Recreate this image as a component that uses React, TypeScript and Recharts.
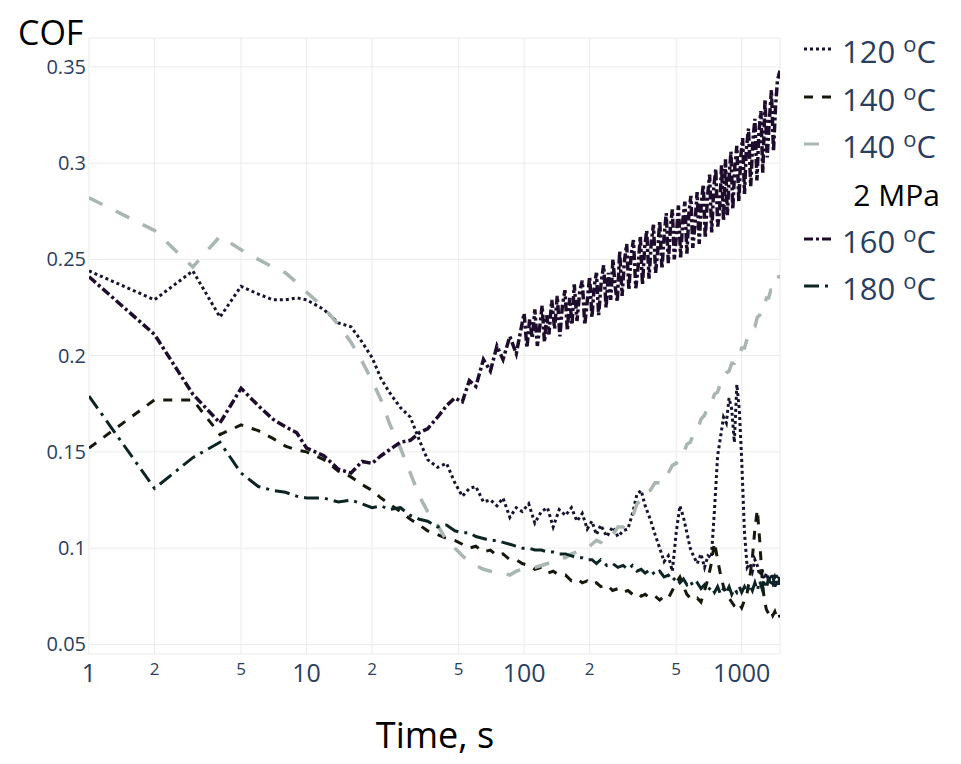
import React from "react";
import { LineChart, Line, XAxis, YAxis, CartesianGrid } from "recharts";

// time, s (log axis)
const TIME = [
  1, 2, 3, 4, 5, 6, 7, 8, 9, 10,
  12, 14, 16, 18, 20, 22, 24, 27, 30, 33, 36, 40, 44, 48,
  52, 56, 60, 65, 70, 75, 80, 86, 92, 98,
  105, 112, 120, 128, 136, 145, 155, 165, 175, 185, 195,
  205, 215, 225, 240, 255, 270, 285, 300, 315, 330, 345, 360, 380,
  400, 420, 440, 460, 480, 500, 520, 540, 560, 580, 600,
  625, 650, 675, 700, 725, 750, 775, 800, 825, 850, 875, 900, 925, 950, 975, 1000,
  1030, 1060, 1090, 1120, 1150, 1180, 1210, 1240, 1270, 1300, 1330, 1360, 1390, 1420, 1450, 1480, 1500,
];

const COF_120 = [
  0.244, 0.229, 0.244, 0.22, 0.236, 0.232, 0.229, 0.229, 0.23, 0.229,
  0.224, 0.217, 0.215, 0.207, 0.199, 0.188, 0.181, 0.173, 0.168, 0.156, 0.146, 0.142, 0.144, 0.134,
  0.127, 0.131, 0.132, 0.124, 0.125, 0.122, 0.126, 0.116, 0.121, 0.119,
  0.123, 0.113, 0.119, 0.121, 0.111, 0.12, 0.117, 0.121, 0.114, 0.118, 0.11,
  0.114, 0.107, 0.112, 0.106, 0.111, 0.106, 0.109, 0.11, 0.118, 0.128, 0.13, 0.122, 0.115,
  0.107, 0.1, 0.093, 0.096, 0.088, 0.108, 0.122, 0.116, 0.108, 0.1, 0.096,
  0.092, 0.097, 0.09, 0.096, 0.095, 0.12, 0.148, 0.158, 0.168, 0.165, 0.178, 0.172, 0.155, 0.185, 0.172, 0.146,
  0.108, 0.09, 0.092, 0.088, 0.094, 0.091, 0.086, 0.089, 0.084, 0.087, 0.083, 0.086, 0.082, 0.085, 0.082, 0.084, 0.083,
];

const COF_140 = [
  0.152, 0.177, 0.177, 0.159, 0.164, 0.161, 0.157, 0.153, 0.151, 0.15,
  0.146, 0.14, 0.137, 0.133, 0.13, 0.126, 0.123, 0.119, 0.115, 0.112, 0.109, 0.107, 0.105, 0.104,
  0.102, 0.1, 0.101, 0.098, 0.099, 0.096, 0.097, 0.094, 0.094, 0.092,
  0.091, 0.089, 0.09, 0.087, 0.088, 0.086, 0.086, 0.083, 0.084, 0.082, 0.083,
  0.081, 0.082, 0.08, 0.081, 0.078, 0.079, 0.077, 0.078, 0.076, 0.077, 0.075, 0.076, 0.074,
  0.075, 0.073, 0.075, 0.074, 0.078, 0.082, 0.085, 0.08, 0.076, 0.074, 0.073,
  0.074, 0.072, 0.078, 0.084, 0.092, 0.103, 0.094, 0.086, 0.08, 0.076, 0.074, 0.072, 0.07, 0.069, 0.071, 0.069,
  0.073, 0.077, 0.085, 0.095, 0.11, 0.12, 0.104, 0.085, 0.073, 0.068, 0.066, 0.068, 0.065, 0.067, 0.064, 0.066, 0.064,
];

const COF_140_2MPA = [
  0.282, 0.265, 0.246, 0.262, 0.255, 0.25, 0.246, 0.243, 0.238, 0.233,
  0.225, 0.216, 0.207, 0.197, 0.187, 0.177, 0.165, 0.152, 0.139, 0.127, 0.119, 0.112, 0.104, 0.1,
  0.096, 0.093, 0.091, 0.089, 0.088, 0.087, 0.087, 0.086, 0.088, 0.089,
  0.09, 0.09, 0.091, 0.092, 0.093, 0.095, 0.095, 0.097, 0.098, 0.099, 0.1,
  0.102, 0.104, 0.103, 0.107, 0.107, 0.111, 0.111, 0.115, 0.116, 0.123, 0.125, 0.129, 0.13,
  0.134, 0.134, 0.139, 0.139, 0.143, 0.144, 0.148, 0.149, 0.154, 0.155, 0.159,
  0.161, 0.167, 0.169, 0.174, 0.175, 0.18, 0.181, 0.186, 0.187, 0.191, 0.192, 0.196, 0.196, 0.2, 0.2, 0.204,
  0.204, 0.209, 0.21, 0.214, 0.215, 0.22, 0.221, 0.226, 0.226, 0.23, 0.23, 0.234, 0.234, 0.238, 0.238, 0.241, 0.241,
];

const COF_180 = [
  0.179, 0.131, 0.147, 0.155, 0.139, 0.132, 0.13, 0.129, 0.127, 0.126,
  0.126, 0.124, 0.125, 0.123, 0.121, 0.122, 0.12, 0.121, 0.117, 0.115, 0.114, 0.111, 0.112, 0.109,
  0.108, 0.108, 0.106, 0.105, 0.104, 0.104, 0.103, 0.102, 0.101, 0.1,
  0.1, 0.099, 0.099, 0.098, 0.098, 0.097, 0.097, 0.096, 0.095, 0.095, 0.094,
  0.094, 0.092, 0.094, 0.091, 0.092, 0.09, 0.091, 0.089, 0.091, 0.088, 0.089, 0.087, 0.089,
  0.086, 0.088, 0.085, 0.086, 0.083, 0.085, 0.082, 0.084, 0.081, 0.083, 0.08,
  0.082, 0.079, 0.081, 0.078, 0.08, 0.077, 0.08, 0.076, 0.079, 0.077, 0.08, 0.076, 0.079, 0.077, 0.08, 0.077,
  0.08, 0.077, 0.081, 0.078, 0.082, 0.078, 0.083, 0.079, 0.084, 0.079, 0.085, 0.08, 0.086, 0.08, 0.086, 0.081, 0.085,
];

// the 160 °C run is sampled more finely (wide oscillating band)
const TIME_160 = [
  1, 2, 3, 4, 5, 6, 7, 8, 9, 10,
  12, 14, 16, 18, 20, 22, 24, 27, 30, 33, 36, 40, 44, 48,
  52, 56, 60, 65, 70, 75, 80, 86, 92, 98,
  100, 103, 106, 109, 112, 115, 118, 121, 124, 127,
  130, 134, 138, 142, 146, 150, 154, 158, 162, 166,
  170, 175, 180, 185, 190, 195, 200, 205, 210, 215,
  220, 226, 232, 238, 244, 250, 256, 262, 268, 275,
  282, 289, 296, 303, 310, 318, 326, 334, 342, 350,
  358, 366, 375, 384, 393, 402, 411, 420, 430, 440,
  450, 460, 470, 480, 490, 500, 512, 524, 536, 548,
  560, 572, 584, 596, 610, 624, 638, 652, 666, 680,
  696, 712, 728, 744, 760, 776, 792, 808, 825, 842,
  859, 876, 893, 910, 930, 950, 970, 990, 1010, 1030,
  1050, 1075, 1100, 1125, 1150, 1175, 1200, 1225, 1250, 1280,
  1310, 1340, 1370, 1400, 1430, 1460, 1500,
];

const COF_160 = [
  0.241, 0.211, 0.18, 0.165, 0.183, 0.174, 0.167, 0.163, 0.16, 0.152,
  0.148, 0.141, 0.139, 0.145, 0.144, 0.148, 0.151, 0.155, 0.156, 0.16, 0.162, 0.168, 0.174, 0.178,
  0.176, 0.187, 0.184, 0.198, 0.192, 0.205, 0.198, 0.21, 0.201, 0.217,
  0.222, 0.204, 0.219, 0.209, 0.224, 0.205, 0.215, 0.226, 0.207, 0.221,
  0.211, 0.229, 0.214, 0.231, 0.21, 0.226, 0.234, 0.213, 0.23, 0.216,
  0.237, 0.218, 0.233, 0.239, 0.216, 0.228, 0.241, 0.22, 0.236, 0.243,
  0.221, 0.238, 0.247, 0.225, 0.243, 0.229, 0.25, 0.236, 0.228, 0.254,
  0.231, 0.249, 0.258, 0.234, 0.252, 0.26, 0.235, 0.246, 0.262, 0.237,
  0.256, 0.265, 0.24, 0.259, 0.268, 0.243, 0.254, 0.27, 0.245, 0.262,
  0.274, 0.248, 0.266, 0.276, 0.25, 0.261, 0.278, 0.251, 0.27, 0.28,
  0.253, 0.274, 0.283, 0.256, 0.268, 0.285, 0.258, 0.279, 0.289, 0.261,
  0.282, 0.294, 0.264, 0.287, 0.297, 0.267, 0.276, 0.299, 0.27, 0.302,
  0.273, 0.293, 0.306, 0.276, 0.298, 0.309, 0.28, 0.303, 0.313, 0.284,
  0.307, 0.318, 0.288, 0.311, 0.323, 0.291, 0.316, 0.327, 0.295, 0.333,
  0.303, 0.322, 0.338, 0.306, 0.329, 0.343, 0.348,
];

const X_TICKS = [1, 2, 5, 10, 20, 50, 100, 200, 500, 1000];
const Y_TICKS = [0.05, 0.1, 0.15, 0.2, 0.25, 0.3, 0.35];

const series = [
  { key: "c120", label: "120 ", color: "#15152f", dash: "3 3", width: 3 },
  { key: "c140", label: "140 ", color: "#15180c", dash: "9 9", width: 3 },
  { key: "c140g", label: "140 ", color: "#a9b6b2", dash: "15 15", width: 3.5, extra: "2 MPa" },
  { key: "c160", label: "160 ", color: "#1d0c2c", dash: "9 3 3 3", width: 3.5 },
  { key: "c180", label: "180 ", color: "#0d2424", dash: "15 6 3 6", width: 3 },
];

const data = TIME.map((t, i) => ({
  t,
  c120: COF_120[i],
  c140: COF_140[i],
  c140g: COF_140_2MPA[i],
  c180: COF_180[i],
}));

const data160 = TIME_160.map((t, i) => ({ t, c160: COF_160[i] }));

const FONT = "'Open Sans', sans-serif";
const TICK_COLOR = "#2a3f5f";

const XTick = (props: any) => {
  const { x, y, payload } = props;
  const major = [1, 10, 100, 1000].includes(payload.value);
  return (
    <text
      x={x}
      y={y}
      dy={major ? 28 : 21}
      textAnchor="middle"
      fontFamily={FONT}
      fontSize={major ? 25 : 17}
      fill={TICK_COLOR}
    >
      {major ? payload.value : String(payload.value)[0]}
    </text>
  );
};

// legend rows: baseline of text, in container px
const legendBaselines = [55, 103, 150, 245, 292];

export default function App() {
  return (
    <div style={{ position: "relative", width: 945, height: 750 }}>
      <LineChart
        width={945}
        height={750}
        data={data}
        margin={{ top: 30, right: 173, bottom: 0, left: 0 }}
      >
        <CartesianGrid stroke="#ebebeb" strokeWidth={1} />
        <XAxis
          dataKey="t"
          type="number"
          scale="log"
          domain={[1, 1500]}
          allowDataOverflow
          ticks={X_TICKS}
          interval={0}
          height={104}
          tickLine={false}
          axisLine={false}
          tickSize={0}
          tickMargin={0}
          tick={<XTick />}
        />
        <YAxis
          type="number"
          domain={[0.045, 0.365]}
          ticks={Y_TICKS}
          interval={0}
          width={81}
          tickLine={false}
          axisLine={false}
          tickSize={0}
          tickMargin={3}
          tick={{ fontSize: 20, fill: TICK_COLOR, fontFamily: FONT }}
        />
        {series.map((s) => (
          <Line
            key={s.key}
            data={s.key === "c160" ? data160 : undefined}
            dataKey={s.key}
            type="linear"
            stroke={s.color}
            strokeWidth={s.width}
            strokeDasharray={s.dash}
            dot={false}
            activeDot={false}
            isAnimationActive={false}
          />
        ))}
      </LineChart>
      <svg
        width={945}
        height={750}
        style={{ position: "absolute", left: 0, top: 0, pointerEvents: "none" }}
      >
        <text x={10} y={37} fontFamily={FONT} fontSize={34} fill="#000">
          COF
        </text>
        <text x={427} y={740} textAnchor="middle" fontFamily={FONT} fontSize={36} fill="#000">
          Time, s
        </text>
        {series.map((s, i) => {
          const yb = legendBaselines[i];
          return (
            <g key={s.key}>
              <line
                x1={796}
                x2={824}
                y1={yb - 14}
                y2={yb - 14}
                stroke={s.color}
                strokeWidth={3}
                strokeDasharray={s.dash}
              />
              <text x={834} y={yb} fontFamily={FONT} fontSize={31} fill={TICK_COLOR}>
                {s.label}
                <tspan fontSize={22} dy={-11}>o</tspan>
                <tspan dy={11}>C</tspan>
              </text>
              {s.extra && (
                <text x={932} y={yb + 48} textAnchor="end" fontFamily={FONT} fontSize={30} fill="#000">
                  {s.extra}
                </text>
              )}
            </g>
          );
        })}
      </svg>
    </div>
  );
}
